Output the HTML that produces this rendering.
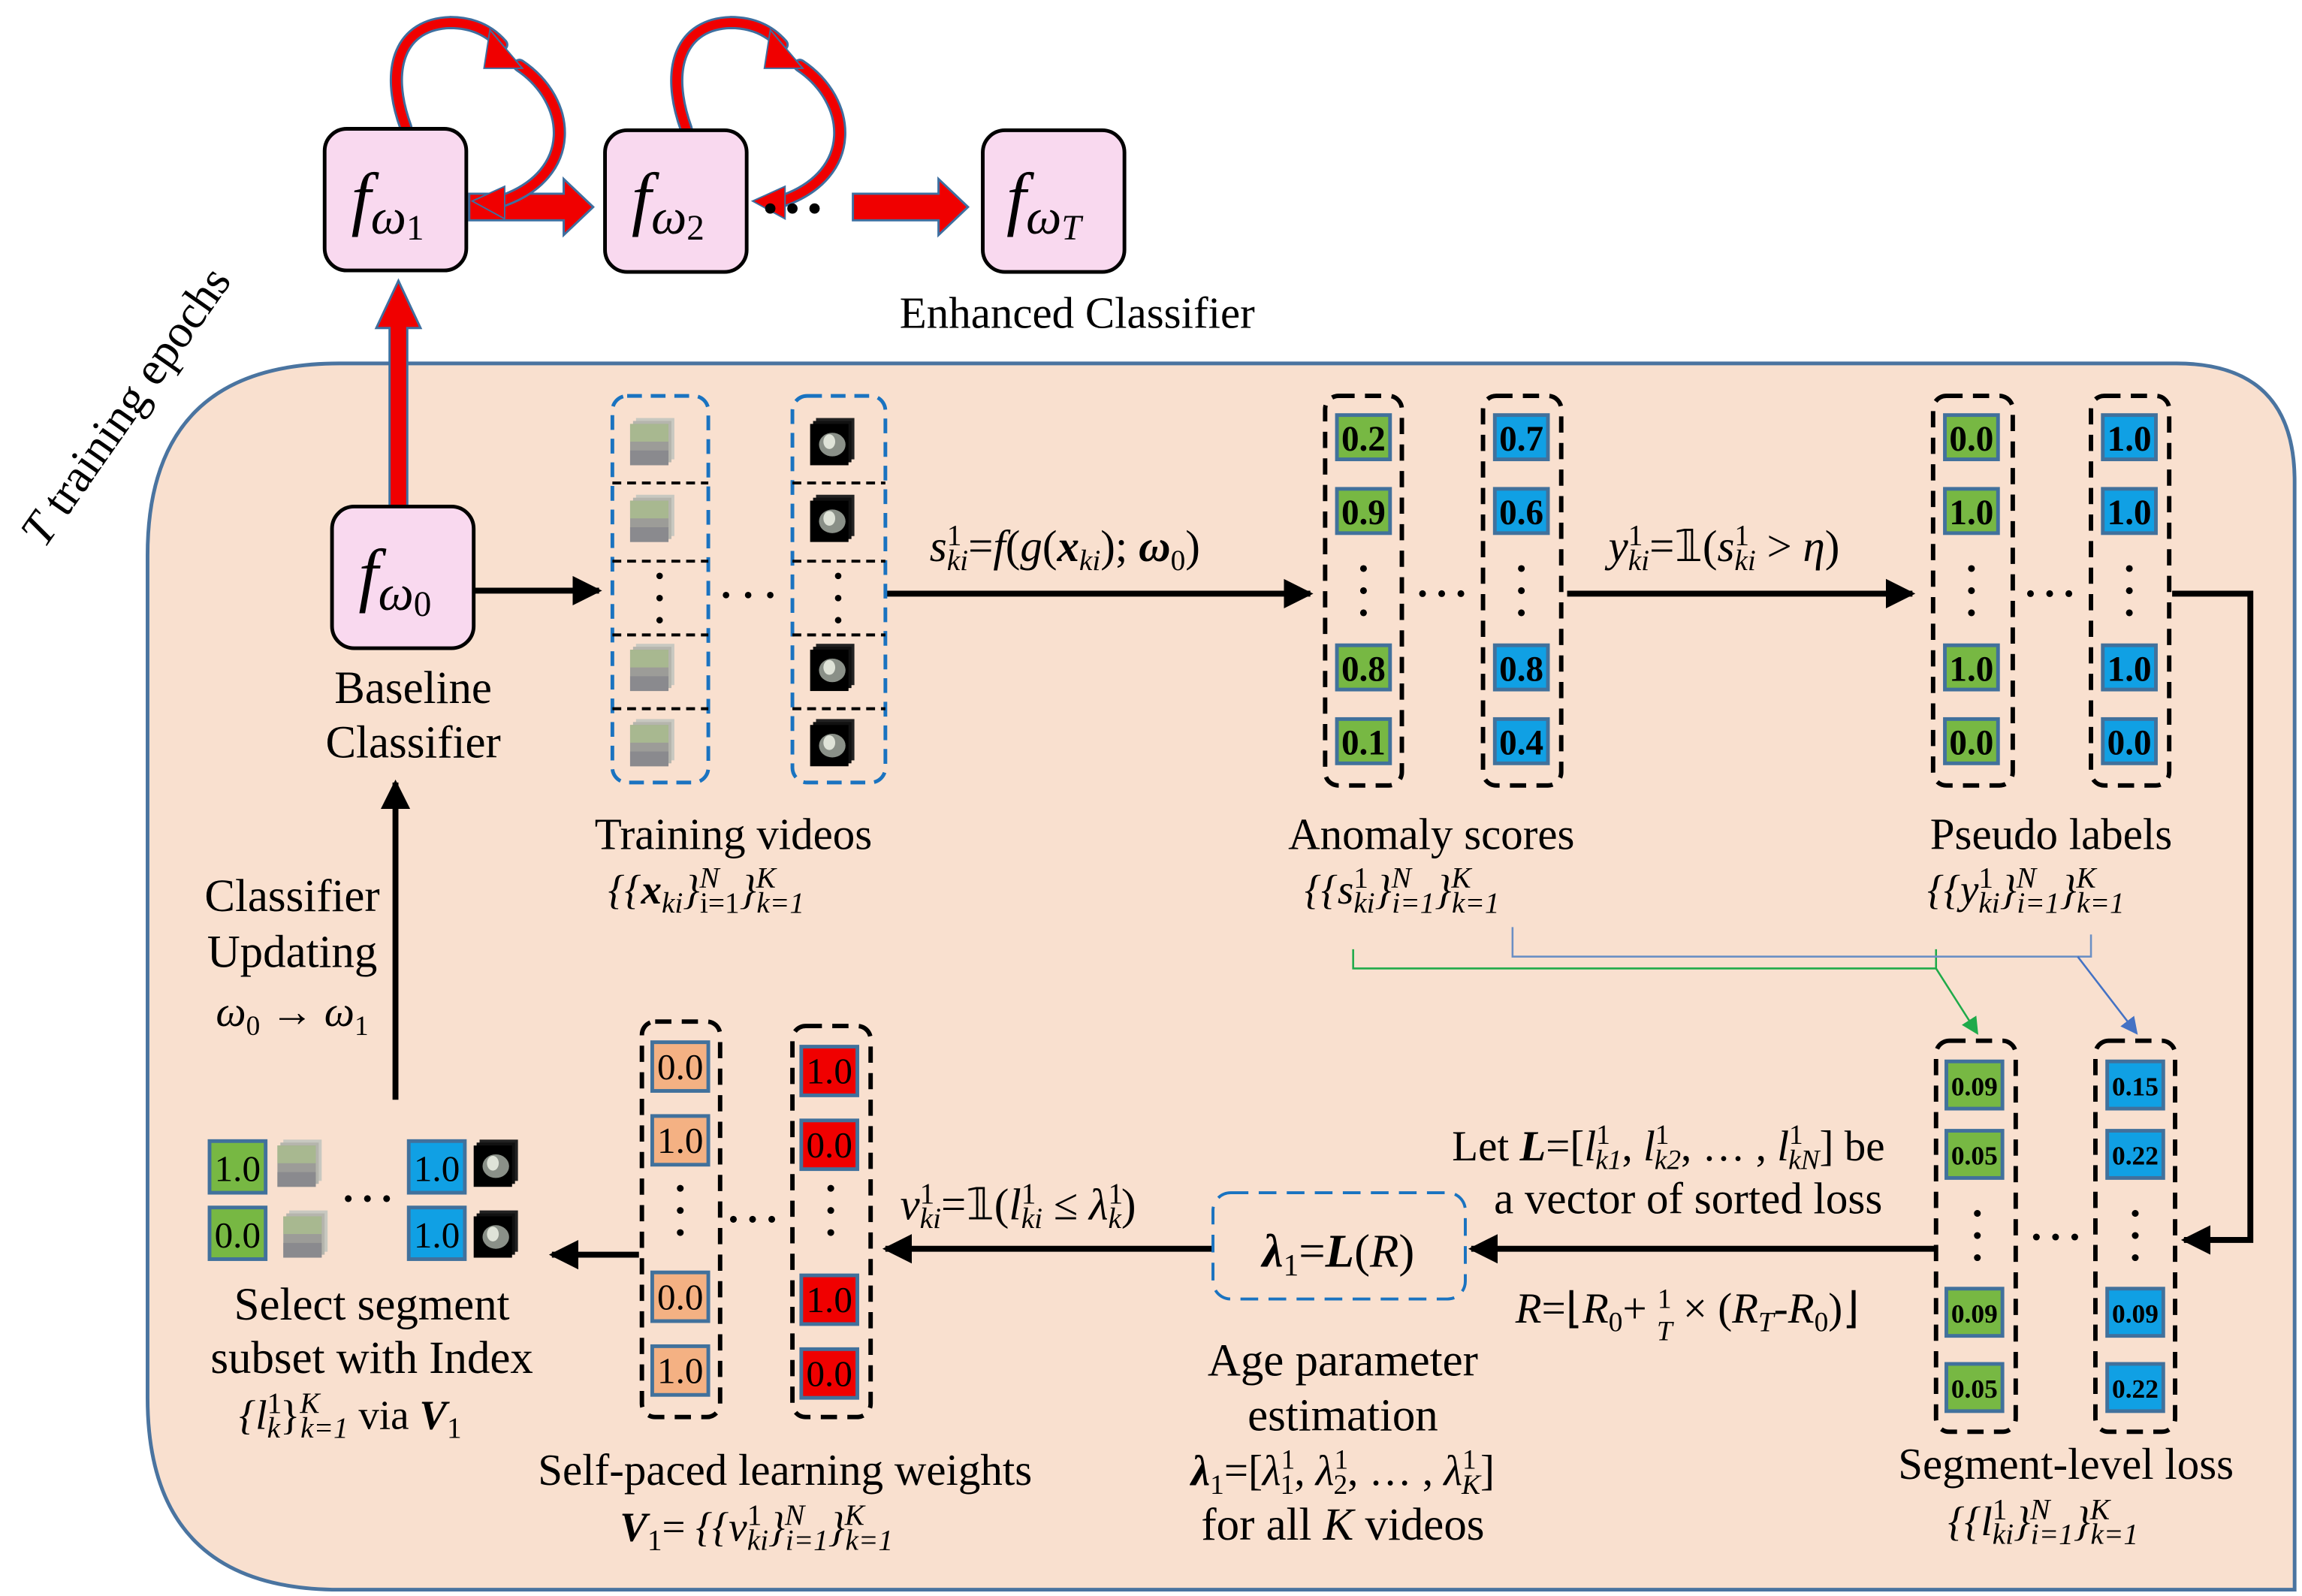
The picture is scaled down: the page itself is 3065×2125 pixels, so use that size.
<!DOCTYPE html>
<html><head><meta charset="utf-8"><style>
html,body{margin:0;padding:0;background:#fff}
svg{display:block}
text{font-family:"Liberation Serif",serif;fill:#000}
.b{font-weight:bold}
.it{font-style:italic}
.n{font-style:normal}
</style></head><body>
<svg width="3065" height="2125" viewBox="0 0 1560 1081" xmlns="http://www.w3.org/2000/svg">
<defs>
<marker id="ab" viewBox="0 0 10 10" refX="9" refY="5" markerWidth="5" markerHeight="5" orient="auto"><path d="M0,0 L10,5 L0,10 z" fill="#000"/></marker>
<marker id="ag" viewBox="0 0 10 10" refX="9" refY="5" markerWidth="9" markerHeight="9" orient="auto"><path d="M0,0 L10,5 L0,10 z" fill="#1faa4a"/></marker>
<marker id="abl" viewBox="0 0 10 10" refX="9" refY="5" markerWidth="9" markerHeight="9" orient="auto"><path d="M0,0 L10,5 L0,10 z" fill="#4472c4"/></marker>
<g id="tn"><rect x="4" y="0" width="26" height="28" fill="#c8c8c0"/><rect x="2" y="2" width="26" height="28" fill="#b5b5ad"/><rect x="0" y="4" width="26" height="28" fill="#9c9c98"/><rect x="0" y="4" width="26" height="12" fill="#a8b890"/><rect x="0" y="22" width="26" height="10" fill="#8a8a8e"/></g>
<g id="td"><rect x="4" y="0" width="26" height="28" fill="#222"/><rect x="2" y="2" width="26" height="28" fill="#111"/><rect x="0" y="4" width="26" height="28" fill="#000"/><ellipse cx="15" cy="18" rx="9" ry="8" fill="#8a9088"/><ellipse cx="13" cy="16" rx="4" ry="5" fill="#dfe3d8"/></g>
</defs>

<path d="M230,246 H1475 Q1555,246 1555,326 V1077 H230 Q100,1077 100,947 V376 Q100,246 230,246 Z" fill="#f9e0cf" stroke="#4a74a0" stroke-width="2.5"/>

<text transform="translate(30,372) rotate(-55)" font-size="32"><tspan class="it">T</tspan> training epochs</text>

<!-- red arrows -->
<g fill="#f00000" stroke="#3d6fa0" stroke-width="1.5">
<polygon points="264,437 264,222 255,222 270,190 285,222 276,222 276,437"/>
<polygon points="318,131 382,131 382,121 402,140 382,159 382,149 318,149"/>
<polygon points="578,131 636,131 636,121 656,140 636,159 636,149 578,149"/>
</g>
<g fill="none" stroke-linecap="round">
<path d="M275,86 C260,45 272,16 305,15 C322,15 333,22 340,30" stroke="#3d6fa0" stroke-width="9"/>
<path d="M275,86 C260,45 272,16 305,15 C322,15 333,22 340,30" stroke="#f00000" stroke-width="6"/>
<path d="M352,44 C388,68 392,118 340,136" stroke="#3d6fa0" stroke-width="9"/>
<path d="M352,44 C388,68 392,118 340,136" stroke="#f00000" stroke-width="6"/>
<path d="M465,87 C450,45 462,16 495,15 C512,15 523,22 530,30" stroke="#3d6fa0" stroke-width="9"/>
<path d="M465,87 C450,45 462,16 495,15 C512,15 523,22 530,30" stroke="#f00000" stroke-width="6"/>
<path d="M542,44 C578,68 582,118 530,136" stroke="#3d6fa0" stroke-width="9"/>
<path d="M542,44 C578,68 582,118 530,136" stroke="#f00000" stroke-width="6"/>
</g>
<g fill="#f00000" stroke="#3d6fa0" stroke-width="1">
<polygon points="332,20 354,46 328,46"/><polygon points="342,126 320,136 342,148"/>
<polygon points="522,20 544,46 518,46"/><polygon points="532,126 510,136 532,148"/>
</g>

<g fill="#f9d9ef" stroke="#000" stroke-width="2.5">
<rect x="220" y="87" width="96" height="96" rx="15"/>
<rect x="410" y="88" width="96" height="96" rx="15"/>
<rect x="666" y="88" width="96" height="96" rx="15"/>
<rect x="225" y="343" width="96" height="96" rx="15"/>
</g>
<text x="238" y="150" font-size="48" class="it">f<tspan font-size="34" dy="8">ω</tspan><tspan font-size="24" dy="4" class="n">1</tspan></text>
<text x="428" y="150" font-size="48" class="it">f<tspan font-size="34" dy="8">ω</tspan><tspan font-size="24" dy="4" class="n">2</tspan></text>
<text x="682" y="150" font-size="48" class="it">f<tspan font-size="34" dy="8">ω</tspan><tspan font-size="24" dy="4">T</tspan></text>
<text x="243" y="405" font-size="48" class="it">f<tspan font-size="34" dy="8">ω</tspan><tspan font-size="24" dy="4" class="n">0</tspan></text>
<g fill="#000"><circle cx="522" cy="141" r="3.5"/><circle cx="537" cy="141" r="3.5"/><circle cx="552" cy="141" r="3.5"/></g>
<text x="730" y="222" font-size="30" text-anchor="middle">Enhanced Classifier</text>
<text x="280" y="476" font-size="31" text-anchor="middle">Baseline</text>
<text x="280" y="513" font-size="31" text-anchor="middle">Classifier</text>

<g stroke="#000" stroke-width="4" fill="none" marker-end="url(#ab)">
<line x1="322" y1="400" x2="406" y2="400"/>
<line x1="600" y1="402" x2="888" y2="402"/>
<line x1="1062" y1="402" x2="1296" y2="402"/>
<polyline points="1472,402 1525,402 1525,840 1480,840"/>
<line x1="1312" y1="846" x2="997" y2="846"/>
<line x1="822" y1="846" x2="600" y2="846"/>
<line x1="433" y1="850" x2="374" y2="850"/>
<line x1="268" y1="745" x2="268" y2="530"/>
</g>

<g fill="none" stroke="#1a73c0" stroke-width="2.5" stroke-dasharray="10 6">
<rect x="415" y="268" width="65" height="262" rx="10"/>
<rect x="537" y="268" width="63" height="262" rx="10"/>
</g>
<g stroke="#000" stroke-width="2" stroke-dasharray="6 4">
<line x1="415" y1="327" x2="480" y2="327"/><line x1="415" y1="380" x2="480" y2="380"/><line x1="415" y1="430" x2="480" y2="430"/><line x1="415" y1="480" x2="480" y2="480"/>
<line x1="537" y1="327" x2="600" y2="327"/><line x1="537" y1="380" x2="600" y2="380"/><line x1="537" y1="430" x2="600" y2="430"/><line x1="537" y1="480" x2="600" y2="480"/>
</g>
<use href="#tn" x="427" y="283"/><use href="#tn" x="427" y="335"/><use href="#tn" x="427" y="436"/><use href="#tn" x="427" y="487"/>
<use href="#td" x="549" y="283"/><use href="#td" x="549" y="335"/><use href="#td" x="549" y="436"/><use href="#td" x="549" y="487"/>
<g fill="#000">
<circle cx="447" cy="390" r="2.2"/><circle cx="447" cy="405" r="2.2"/><circle cx="447" cy="420" r="2.2"/>
<circle cx="568" cy="390" r="2.2"/><circle cx="568" cy="405" r="2.2"/><circle cx="568" cy="420" r="2.2"/>
<circle cx="492" cy="403" r="2.2"/><circle cx="507" cy="403" r="2.2"/><circle cx="522" cy="403" r="2.2"/>
</g>
<text x="497" y="575" font-size="30" text-anchor="middle">Training videos</text>
<text x="412" y="612" font-size="28" class="it">{{<tspan class="b">x</tspan><tspan font-size="20" dy="6">ki</tspan><tspan dy="-6">}</tspan><tspan font-size="20" dy="-11">N</tspan><tspan font-size="20" dx="-13" dy="17" class="n">i=1</tspan><tspan dy="-6">}</tspan><tspan font-size="20" dy="-11">K</tspan><tspan font-size="20" dx="-13" dy="17">k=1</tspan></text>
<text x="630" y="380" font-size="30" class="it">s<tspan font-size="20" dy="-11" class="n">1</tspan><tspan font-size="20" dx="-10" dy="17">ki</tspan><tspan dy="-6" class="n">=</tspan>f<tspan class="n">(</tspan>g<tspan class="n">(</tspan><tspan class="b">x</tspan><tspan font-size="20" dy="6">ki</tspan><tspan dy="-6" class="n">); </tspan><tspan class="b">ω</tspan><tspan font-size="20" dy="6" class="n">0</tspan><tspan dy="-6" class="n">)</tspan></text>

<g fill="none" stroke="#000" stroke-width="3" stroke-dasharray="11 7">
<rect x="898" y="268" width="52" height="264" rx="9"/>
<rect x="1005" y="268" width="53" height="264" rx="9"/>
<rect x="1310" y="268" width="54" height="264" rx="9"/>
<rect x="1417" y="268" width="53" height="264" rx="9"/>
<rect x="1312" y="705" width="54" height="265" rx="9"/>
<rect x="1420" y="705" width="54" height="265" rx="9"/>
<rect x="435" y="692" width="53" height="268" rx="9"/>
<rect x="537" y="695" width="53" height="265" rx="9"/>
</g>

<g stroke="#41719c" stroke-width="2.5">
<g fill="#77b843">
<rect x="906" y="281" width="36" height="30"/><rect x="906" y="331" width="36" height="30"/><rect x="906" y="437" width="36" height="30"/><rect x="906" y="487" width="36" height="30"/>
<rect x="1318" y="281" width="36" height="30"/><rect x="1318" y="331" width="36" height="30"/><rect x="1318" y="437" width="36" height="30"/><rect x="1318" y="487" width="36" height="30"/>
<rect x="1319" y="719" width="38" height="32"/><rect x="1319" y="766" width="38" height="32"/><rect x="1319" y="873" width="38" height="32"/><rect x="1319" y="924" width="38" height="32"/>
<rect x="142" y="773" width="38" height="35"/><rect x="142" y="818" width="38" height="35"/>
</g>
<g fill="#10a0e4">
<rect x="1013" y="281" width="36" height="30"/><rect x="1013" y="331" width="36" height="30"/><rect x="1013" y="437" width="36" height="30"/><rect x="1013" y="487" width="36" height="30"/>
<rect x="1425" y="281" width="36" height="30"/><rect x="1425" y="331" width="36" height="30"/><rect x="1425" y="437" width="36" height="30"/><rect x="1425" y="487" width="36" height="30"/>
<rect x="1428" y="719" width="38" height="32"/><rect x="1428" y="766" width="38" height="32"/><rect x="1428" y="873" width="38" height="32"/><rect x="1428" y="924" width="38" height="32"/>
<rect x="277" y="773" width="38" height="35"/><rect x="277" y="818" width="38" height="35"/>
</g>
<g fill="#f4b183">
<rect x="442" y="706" width="38" height="33"/><rect x="442" y="756" width="38" height="33"/><rect x="442" y="862" width="38" height="33"/><rect x="442" y="912" width="38" height="33"/>
</g>
<g fill="#f00000">
<rect x="543" y="709" width="38" height="33"/><rect x="543" y="759" width="38" height="33"/><rect x="543" y="864" width="38" height="33"/><rect x="543" y="914" width="38" height="33"/>
</g>
</g>
<g font-size="24" text-anchor="middle" class="b">
<text x="924" y="305">0.2</text><text x="924" y="355">0.9</text><text x="924" y="461">0.8</text><text x="924" y="511">0.1</text>
<text x="1031" y="305">0.7</text><text x="1031" y="355">0.6</text><text x="1031" y="461">0.8</text><text x="1031" y="511">0.4</text>
<text x="1336" y="305">0.0</text><text x="1336" y="355">1.0</text><text x="1336" y="461">1.0</text><text x="1336" y="511">0.0</text>
<text x="1443" y="305">1.0</text><text x="1443" y="355">1.0</text><text x="1443" y="461">1.0</text><text x="1443" y="511">0.0</text>
</g>
<g font-size="18" text-anchor="middle" class="b">
<text x="1338" y="742">0.09</text><text x="1338" y="789">0.05</text><text x="1338" y="896">0.09</text><text x="1338" y="947">0.05</text>
<text x="1447" y="742">0.15</text><text x="1447" y="789">0.22</text><text x="1447" y="896">0.09</text><text x="1447" y="947">0.22</text>
</g>
<g font-size="25" text-anchor="middle">
<text x="461" y="731">0.0</text><text x="461" y="781">1.0</text><text x="461" y="887">0.0</text><text x="461" y="937">1.0</text>
<text x="562" y="734">1.0</text><text x="562" y="784">0.0</text><text x="562" y="889">1.0</text><text x="562" y="939">0.0</text>
<text x="161" y="800">1.0</text><text x="161" y="845">0.0</text><text x="296" y="800">1.0</text><text x="296" y="845">1.0</text>
</g>
<g fill="#000">
<circle cx="924" cy="385" r="2.3"/><circle cx="924" cy="400" r="2.3"/><circle cx="924" cy="415" r="2.3"/>
<circle cx="1031" cy="385" r="2.3"/><circle cx="1031" cy="400" r="2.3"/><circle cx="1031" cy="415" r="2.3"/>
<circle cx="1336" cy="385" r="2.3"/><circle cx="1336" cy="400" r="2.3"/><circle cx="1336" cy="415" r="2.3"/>
<circle cx="1443" cy="385" r="2.3"/><circle cx="1443" cy="400" r="2.3"/><circle cx="1443" cy="415" r="2.3"/>
<circle cx="964" cy="402" r="2.3"/><circle cx="977" cy="402" r="2.3"/><circle cx="990" cy="402" r="2.3"/>
<circle cx="1376" cy="402" r="2.3"/><circle cx="1389" cy="402" r="2.3"/><circle cx="1402" cy="402" r="2.3"/>
<circle cx="1340" cy="822" r="2.3"/><circle cx="1340" cy="837" r="2.3"/><circle cx="1340" cy="852" r="2.3"/>
<circle cx="1447" cy="822" r="2.3"/><circle cx="1447" cy="837" r="2.3"/><circle cx="1447" cy="852" r="2.3"/>
<circle cx="1380" cy="838" r="2.3"/><circle cx="1393" cy="838" r="2.3"/><circle cx="1406" cy="838" r="2.3"/>
<circle cx="461" cy="805" r="2.3"/><circle cx="461" cy="820" r="2.3"/><circle cx="461" cy="835" r="2.3"/>
<circle cx="563" cy="805" r="2.3"/><circle cx="563" cy="820" r="2.3"/><circle cx="563" cy="835" r="2.3"/>
<circle cx="497" cy="826" r="2.3"/><circle cx="510" cy="826" r="2.3"/><circle cx="523" cy="826" r="2.3"/>
<circle cx="236" cy="812" r="2.3"/><circle cx="249" cy="812" r="2.3"/><circle cx="262" cy="812" r="2.3"/>
</g>
<use href="#tn" x="188" y="772"/><use href="#tn" x="192" y="820"/>
<use href="#td" x="321" y="772"/><use href="#td" x="321" y="820"/>

<text x="1090" y="380" font-size="30" class="it">y<tspan font-size="20" dy="-11" class="n">1</tspan><tspan font-size="20" dx="-10" dy="17">ki</tspan><tspan dy="-6" class="n">=𝟙(</tspan>s<tspan font-size="20" dy="-11" class="n">1</tspan><tspan font-size="20" dx="-10" dy="17">ki</tspan><tspan dy="-6" class="n"> &gt; </tspan>η<tspan class="n">)</tspan></text>

<text x="970" y="575" font-size="30" text-anchor="middle">Anomaly scores</text>
<text x="884" y="612" font-size="28" class="it">{{s<tspan font-size="20" dy="-11" class="n">1</tspan><tspan font-size="20" dx="-10" dy="17">ki</tspan><tspan dy="-6">}</tspan><tspan font-size="20" dy="-11">N</tspan><tspan font-size="20" dx="-13" dy="17">i=1</tspan><tspan dy="-6">}</tspan><tspan font-size="20" dy="-11">K</tspan><tspan font-size="20" dx="-13" dy="17">k=1</tspan></text>
<text x="1390" y="575" font-size="30" text-anchor="middle">Pseudo labels</text>
<text x="1306" y="612" font-size="28" class="it">{{y<tspan font-size="20" dy="-11" class="n">1</tspan><tspan font-size="20" dx="-10" dy="17">ki</tspan><tspan dy="-6">}</tspan><tspan font-size="20" dy="-11">N</tspan><tspan font-size="20" dx="-13" dy="17">i=1</tspan><tspan dy="-6">}</tspan><tspan font-size="20" dy="-11">K</tspan><tspan font-size="20" dx="-13" dy="17">k=1</tspan></text>

<polyline points="917,643 917,656 1312,656 1312,643" fill="none" stroke="#1faa4a" stroke-width="1.3"/>
<line x1="1312" y1="656" x2="1340" y2="700" stroke="#1faa4a" stroke-width="1.3" marker-end="url(#ag)"/>
<polyline points="1025,628 1025,648 1417,648 1417,633" fill="none" stroke="#6b8fc4" stroke-width="1.3"/>
<line x1="1408" y1="648" x2="1448" y2="700" stroke="#4472c4" stroke-width="1.3" marker-end="url(#abl)"/>

<rect x="822" y="808" width="171" height="72" rx="12" fill="none" stroke="#1a73c0" stroke-width="2" stroke-dasharray="12 7"/>
<text x="907" y="858" font-size="32" text-anchor="middle" class="it"><tspan class="b">λ</tspan><tspan font-size="21" dy="6" class="n">1</tspan><tspan dy="-6" class="n">=</tspan><tspan class="b">L</tspan><tspan class="n">(</tspan>R<tspan class="n">)</tspan></text>

<text x="984" y="786" font-size="29">Let <tspan class="it b">L</tspan>=[<tspan class="it">l</tspan><tspan font-size="19" dy="-11">1</tspan><tspan font-size="19" dx="-10" dy="17" class="it">k1</tspan><tspan dy="-6">, </tspan><tspan class="it">l</tspan><tspan font-size="19" dy="-11">1</tspan><tspan font-size="19" dx="-10" dy="17" class="it">k2</tspan><tspan dy="-6">, … , </tspan><tspan class="it">l</tspan><tspan font-size="19" dy="-11">1</tspan><tspan font-size="19" dx="-10" dy="17" class="it">kN</tspan><tspan dy="-6">] be</tspan></text>
<text x="1144" y="822" font-size="30" text-anchor="middle">a vector of sorted loss</text>
<text x="1027" y="896" font-size="29" class="it">R<tspan class="n">=⌊</tspan>R<tspan font-size="19" dy="6" class="n">0</tspan><tspan dy="-6" class="n">+ </tspan><tspan font-size="19" dy="-10" class="n">1</tspan><tspan font-size="19" dx="-10" dy="22">T</tspan><tspan dy="-12" class="n"> × (</tspan>R<tspan font-size="19" dy="6">T</tspan><tspan dy="-6" class="n">-</tspan>R<tspan font-size="19" dy="6" class="n">0</tspan><tspan dy="-6" class="n">)⌋</tspan></text>

<text x="910" y="932" font-size="31" text-anchor="middle">Age parameter</text>
<text x="910" y="969" font-size="31" text-anchor="middle">estimation</text>
<text x="910" y="1006" font-size="29" text-anchor="middle"><tspan class="it b">λ</tspan><tspan font-size="19" dy="6">1</tspan><tspan dy="-6">=[</tspan><tspan class="it">λ</tspan><tspan font-size="19" dy="-11">1</tspan><tspan font-size="19" dx="-10" dy="17">1</tspan><tspan dy="-6">, </tspan><tspan class="it">λ</tspan><tspan font-size="19" dy="-11">1</tspan><tspan font-size="19" dx="-10" dy="17">2</tspan><tspan dy="-6">, … , </tspan><tspan class="it">λ</tspan><tspan font-size="19" dy="-11">1</tspan><tspan font-size="19" dx="-10" dy="17" class="it">K</tspan><tspan dy="-6">]</tspan></text>
<text x="910" y="1043" font-size="31" text-anchor="middle">for all <tspan class="it">K</tspan> videos</text>

<text x="1400" y="1002" font-size="30" text-anchor="middle">Segment-level loss</text>
<text x="1320" y="1040" font-size="28" class="it">{{l<tspan font-size="20" dy="-11" class="n">1</tspan><tspan font-size="20" dx="-10" dy="17">ki</tspan><tspan dy="-6">}</tspan><tspan font-size="20" dy="-11">N</tspan><tspan font-size="20" dx="-13" dy="17">i=1</tspan><tspan dy="-6">}</tspan><tspan font-size="20" dy="-11">K</tspan><tspan font-size="20" dx="-13" dy="17">k=1</tspan></text>

<text x="610" y="826" font-size="30" class="it">v<tspan font-size="20" dy="-11" class="n">1</tspan><tspan font-size="20" dx="-10" dy="17">ki</tspan><tspan dy="-6" class="n">=𝟙(</tspan>l<tspan font-size="20" dy="-11" class="n">1</tspan><tspan font-size="20" dx="-10" dy="17">ki</tspan><tspan dy="-6" class="n"> ≤ </tspan>λ<tspan font-size="20" dy="-11" class="n">1</tspan><tspan font-size="20" dx="-10" dy="17">k</tspan><tspan dy="-6" class="n">)</tspan></text>

<text x="532" y="1006" font-size="30" text-anchor="middle">Self-paced learning weights</text>
<text x="420" y="1044" font-size="28" class="it"><tspan class="b">V</tspan><tspan font-size="20" dy="6" class="n">1</tspan><tspan dy="-6" class="n">= </tspan>{{v<tspan font-size="20" dy="-11" class="n">1</tspan><tspan font-size="20" dx="-10" dy="17">ki</tspan><tspan dy="-6">}</tspan><tspan font-size="20" dy="-11">N</tspan><tspan font-size="20" dx="-13" dy="17">i=1</tspan><tspan dy="-6">}</tspan><tspan font-size="20" dy="-11">K</tspan><tspan font-size="20" dx="-13" dy="17">k=1</tspan></text>

<text x="252" y="894" font-size="31" text-anchor="middle">Select segment</text>
<text x="252" y="930" font-size="31" text-anchor="middle">subset with Index</text>
<text x="162" y="968" font-size="28"><tspan class="it">{l</tspan><tspan font-size="20" dy="-11">1</tspan><tspan font-size="20" dx="-10" dy="17" class="it">k</tspan><tspan dy="-6">}</tspan><tspan font-size="20" dy="-11" class="it">K</tspan><tspan font-size="20" dx="-13" dy="17" class="it">k=1</tspan><tspan dy="-6"> via </tspan><tspan class="it b">V</tspan><tspan font-size="20" dy="6">1</tspan></text>

<text x="198" y="617" font-size="31" text-anchor="middle">Classifier</text>
<text x="198" y="655" font-size="31" text-anchor="middle">Updating</text>
<text x="198" y="695" font-size="29" text-anchor="middle"><tspan class="it">ω</tspan><tspan font-size="19" dy="6">0</tspan><tspan dy="-6"> → </tspan><tspan class="it">ω</tspan><tspan font-size="19" dy="6">1</tspan></text>
</svg>
</body></html>
